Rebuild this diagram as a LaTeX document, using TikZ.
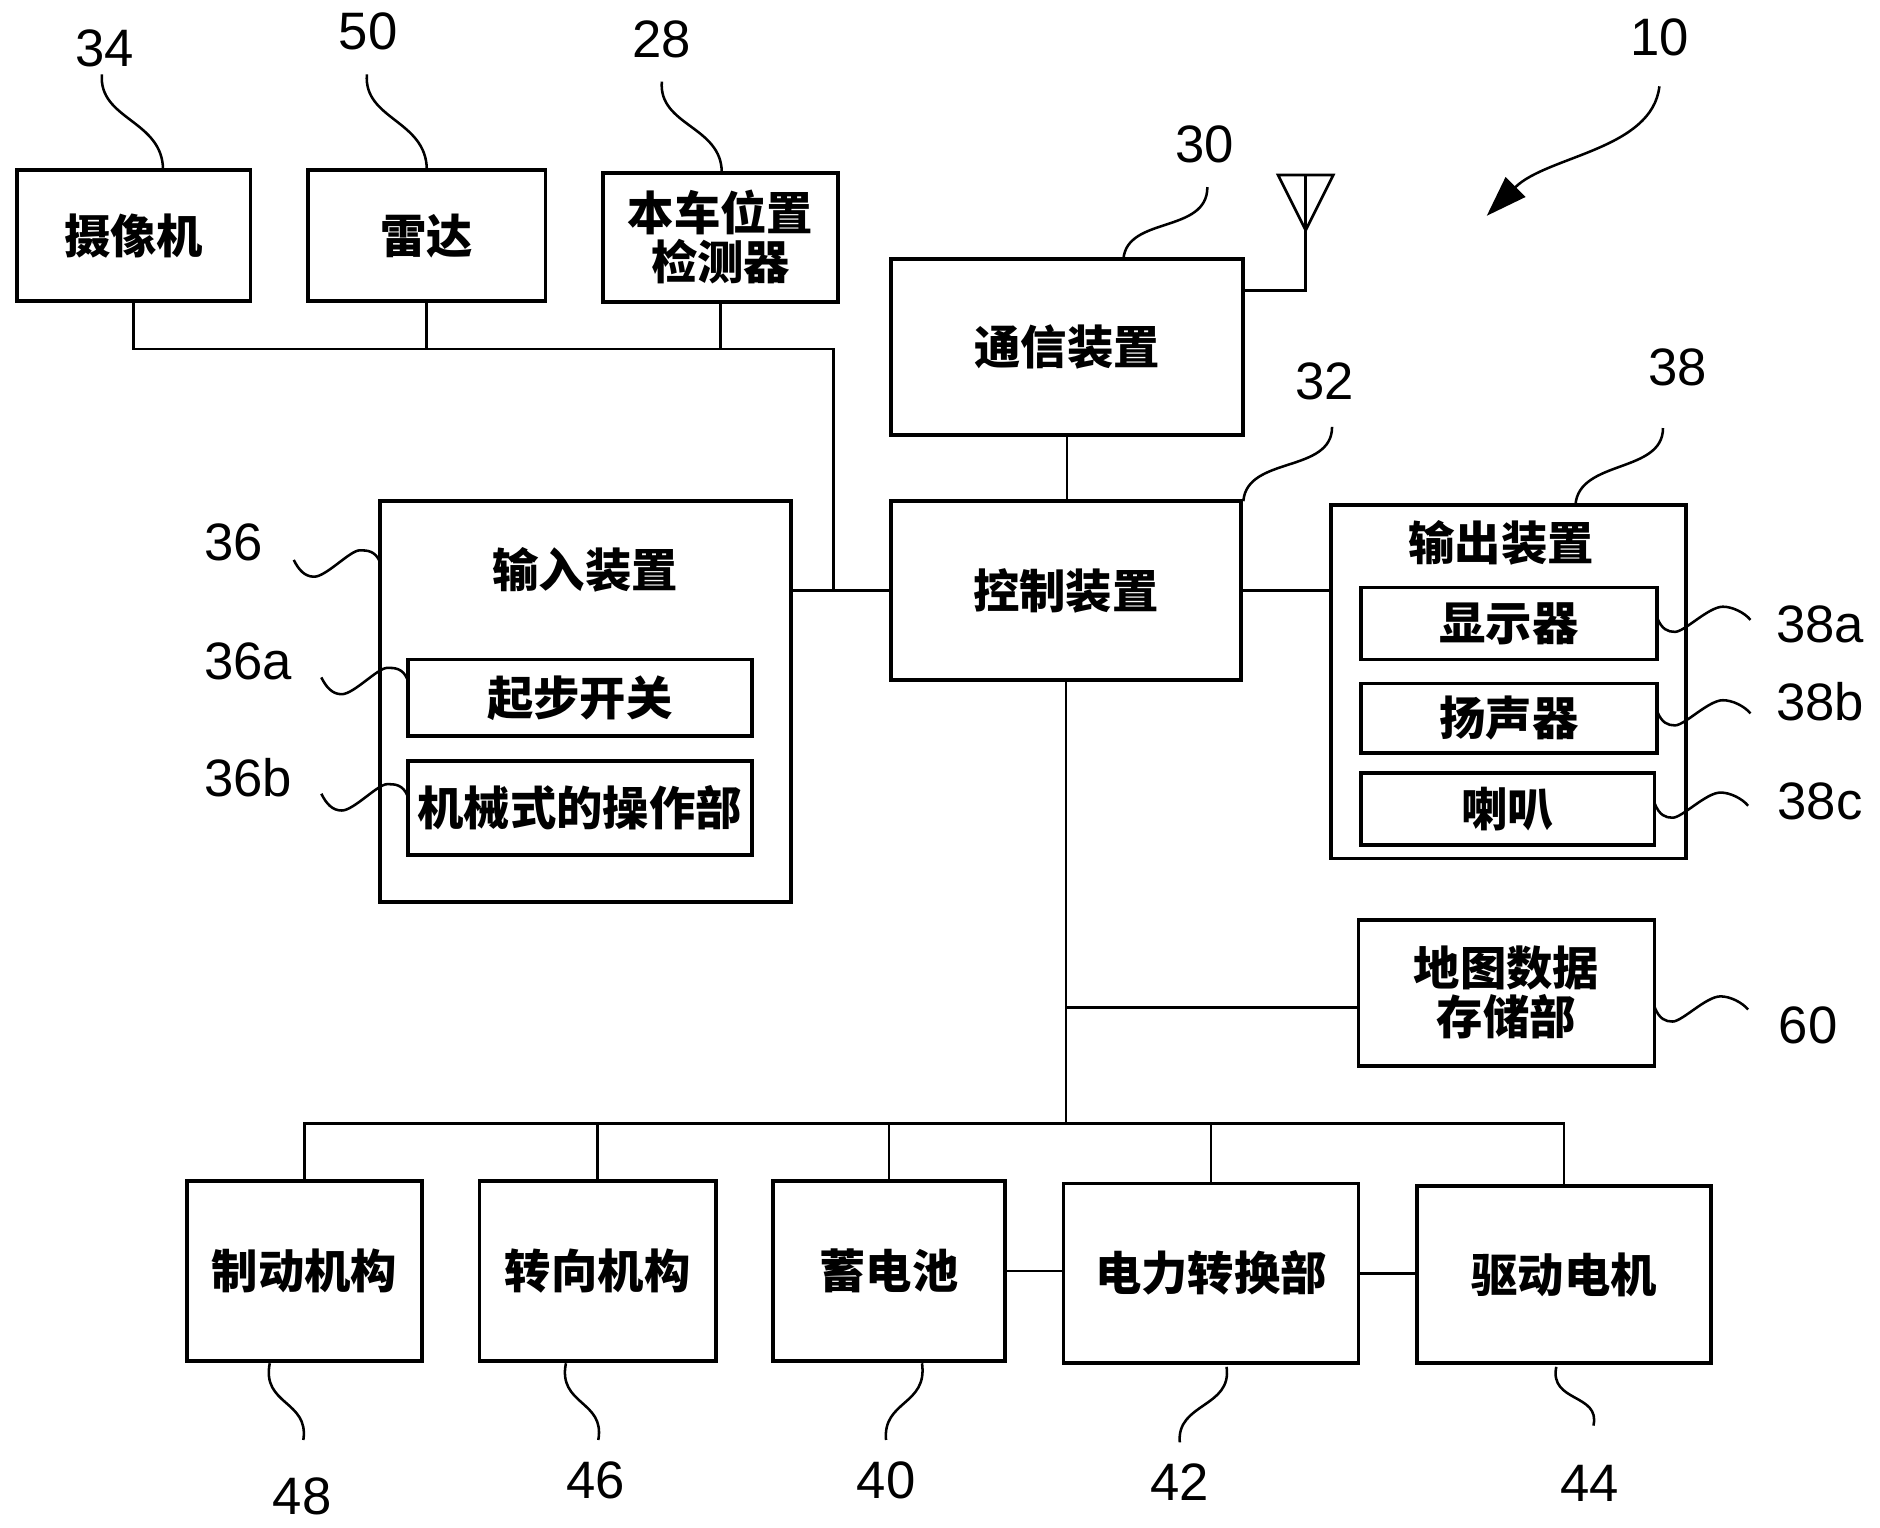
\documentclass[tikz,border=0pt]{standalone}
\usepackage{fontspec}
\setmainfont{Liberation Sans}
\newfontfamily\cjk{Noto Sans CJK SC}
\usetikzlibrary{fit,arrows.meta,calc}
\begin{document}
\begin{tikzpicture}[x=0.1mm,y=-0.1mm,
  box/.style={draw, line width=0.9pt, inner sep=0pt},
  ttl/.style={inner sep=0pt, align=center, font=\cjk\bfseries\fontsize{11pt}{10.6pt}\selectfont},
  wire/.style={line width=0.65pt},
  lead/.style={line width=0.6pt},
  num/.style={inner sep=0pt, font=\fontsize{12.5pt}{14pt}\selectfont}]
\useasboundingbox (0,0) rectangle (1568,1274);

% ---------- boxes ----------
\node[box, fit={(14,142)(209,251)}] (cam) {};
\node[ttl] (camt) at (cam.center) {摄像机};
\node[box, fit={(257,142)(455,251)}] (radar) {};
\node[ttl] (radart) at (radar.center) {雷达};
\node[box, fit={(503,144)(699,252)}] (pos) {};
\node[ttl] (post) at (pos.center) {本车位置\\检测器};
\node[box, fit={(743,216)(1037,363)}] (comm) {};
\node[ttl] (commt) at (comm.center) {通信装置};
\node[box, fit={(743,418)(1035,567)}] (ctrl) {};
\node[ttl] (ctrlt) at (ctrl.center) {控制装置};
\node[box, fit={(317,418)(660,752)}] (inp) {};
\node[ttl] (inpt) at (488,475) {输入装置};
\node[box, fit={(340,550)(627,614)}] (sw) {};
\node[ttl] (swt) at (sw.center) {起步开关};
\node[box, fit={(340,635)(627,713)}] (mech) {};
\node[ttl] (mecht) at (mech.center) {机械式的操作部};
\node[box, fit={(1110,421)(1406,716)}] (out) {};
\node[ttl] (outt) at (1252,453) {输出装置};
\node[box, fit={(1135,490)(1382,550)}] (disp) {};
\node[ttl] (dispt) at (disp.center) {显示器};
\node[box, fit={(1135,570)(1382,628)}] (spk) {};
\node[ttl] (spkt) at (spk.center) {扬声器};
\node[box, fit={(1135,645)(1380,705)}] (horn) {};
\node[ttl] (hornt) at (horn.center) {喇叭};
\node[box, fit={(1133,767)(1380,889)}] (map) {};
\node[ttl] (mapt) at (map.center) {地图数据\\存储部};
\node[box, fit={(156,985)(352,1135)}] (brake) {};
\node[ttl] (braket) at (brake.center) {制动机构};
\node[box, fit={(400,985)(597,1135)}] (steer) {};
\node[ttl] (steert) at (steer.center) {转向机构};
\node[box, fit={(645,985)(838,1135)}] (batt) {};
\node[ttl] (battt) at (batt.center) {蓄电池};
\node[box, fit={(887,987)(1133,1137)}] (conv) {};
\node[ttl] (convt) at (conv.center) {电力转换部};
\node[box, fit={(1182,989)(1427,1137)}] (motor) {};
\node[ttl] (motort) at (motor.center) {驱动电机};

% ---------- wires ----------
\coordinate (j1) at (695,291);
\draw[wire] (cam.south) |- (j1) |- (ctrl.west);
\draw[wire] (radar.south) -- (radar.south |- j1);
\draw[wire] (pos.south) -- (pos.south |- j1);
\draw[wire] (ctrl.west -| inp.east) -- (ctrl.west);
\draw[wire] (comm.south) -- (comm.south |- ctrl.north);
\draw[wire] (ctrl.east) -- (ctrl.east -| out.west);
\coordinate (bus) at (890,937);
\coordinate (mj) at ($(map.north west)!0.6!(map.south west)$);
\draw[wire] (ctrl.south) -- (ctrl.south |- bus);
\draw[wire] (ctrl.south |- mj) -- (mj);
\draw[wire] (brake.north) |- (bus) -| (motor.north);
\draw[wire] (steer.north) -- (steer.north |- bus);
\draw[wire] (batt.north) -- (batt.north |- bus);
\draw[wire] (conv.north) -- (conv.north |- bus);
\draw[wire] (batt.east) -- (batt.east -| conv.west);
\draw[wire] (conv.east) -- (conv.east -| motor.west);

% antenna
\coordinate (ant) at (1089,192);
\coordinate (antL) at (1066,146);
\coordinate (antR) at (1112,146);
\coordinate (antT) at (1089,146);
\coordinate (antB) at (1089,242);
\draw[wire] (antL) -- (antR) -- (ant) -- cycle;
\draw[wire] (antT) -- (ant) -- (antB) -- (antB -| comm.east);

% ---------- reference numerals ----------
\node[num] (n34) at (87,40) {34};
\node[num] (n50) at (307,26) {50};
\node[num] (n28) at (552,33) {28};
\node[num] (n30) at (1005,120) {30};
\node[num] (n10) at (1384,31) {10};
\node[num] (n32) at (1105,318) {32};
\node[num] (n38) at (1399,306) {38};
\node[num] (n36) at (195,452) {36};
\node[num] (n36a) at (207,552) {36a};
\node[num] (n36b) at (207,649) {36b};
\node[num] (n38a) at (1518,521) {38a};
\node[num] (n38b) at (1518,585) {38b};
\node[num] (n38c) at (1518,668) {38c};
\node[num] (n60) at (1508,855) {60};
\node[num] (n48) at (252,1248) {48};
\node[num] (n46) at (497,1235) {46};
\node[num] (n40) at (739,1235) {40};
\node[num] (n42) at (984,1236) {42};
\node[num] (n44) at (1326,1237) {44};

% ---------- leaders ----------
\draw[lead] (136,142) .. controls (136,100) and (82,100) .. (85,62);
\draw[lead] (356,142) .. controls (356,100) and (303,100) .. (306,62);
\draw[lead] (602,144) .. controls (602,105) and (549,105) .. (552,68);
\draw[lead] (937,216) .. controls (940,180) and (1007,195) .. (1007,156);
\draw[lead] (1037,418) .. controls (1040,380) and (1111,395) .. (1111,356);
\draw[lead] (1314,421) .. controls (1317,383) and (1387,395) .. (1387,357);
\draw[lead, -{Triangle[length=3.4mm,width=2.3mm]}] (1384,72) .. controls (1378,125) and (1290,130) .. (1240,180);

% left squiggles
\foreach \ex/\ey in {317/469, 340/567, 340/664}{
  \draw[lead] (\ex,\ey) .. controls +(-4,-10) and +(6,0) .. (\ex-17,\ey-10)
     .. controls +(-8,0) and +(10,0) .. (\ex-55,\ey+12)
     .. controls +(-8,0) and +(4,8) .. (\ex-72,\ey-2);
}
% right squiggles
\foreach \ex/\ey in {1382/515, 1382/593, 1380/670, 1380/840}{
  \draw[lead] (\ex,\ey) .. controls +(4,10) and +(-6,0) .. (\ex+15,\ey+12)
     .. controls +(8,0) and +(-12,0) .. (\ex+55,\ey-9)
     .. controls +(8,0) and +(-5,-6) .. (\ex+78,\ey+2);
}
% bottom leaders
\draw[lead] (225,1137) .. controls (218,1172) and (258,1168) .. (253,1201);
\draw[lead] (472,1137) .. controls (465,1172) and (505,1168) .. (499,1201);
\draw[lead] (769,1137) .. controls (774,1172) and (736,1168) .. (739,1201);
\draw[lead] (1023,1140) .. controls (1028,1174) and (981,1170) .. (984,1203);
\draw[lead] (1298,1140) .. controls (1292,1170) and (1335,1162) .. (1329,1189);
\end{tikzpicture}
\end{document}
